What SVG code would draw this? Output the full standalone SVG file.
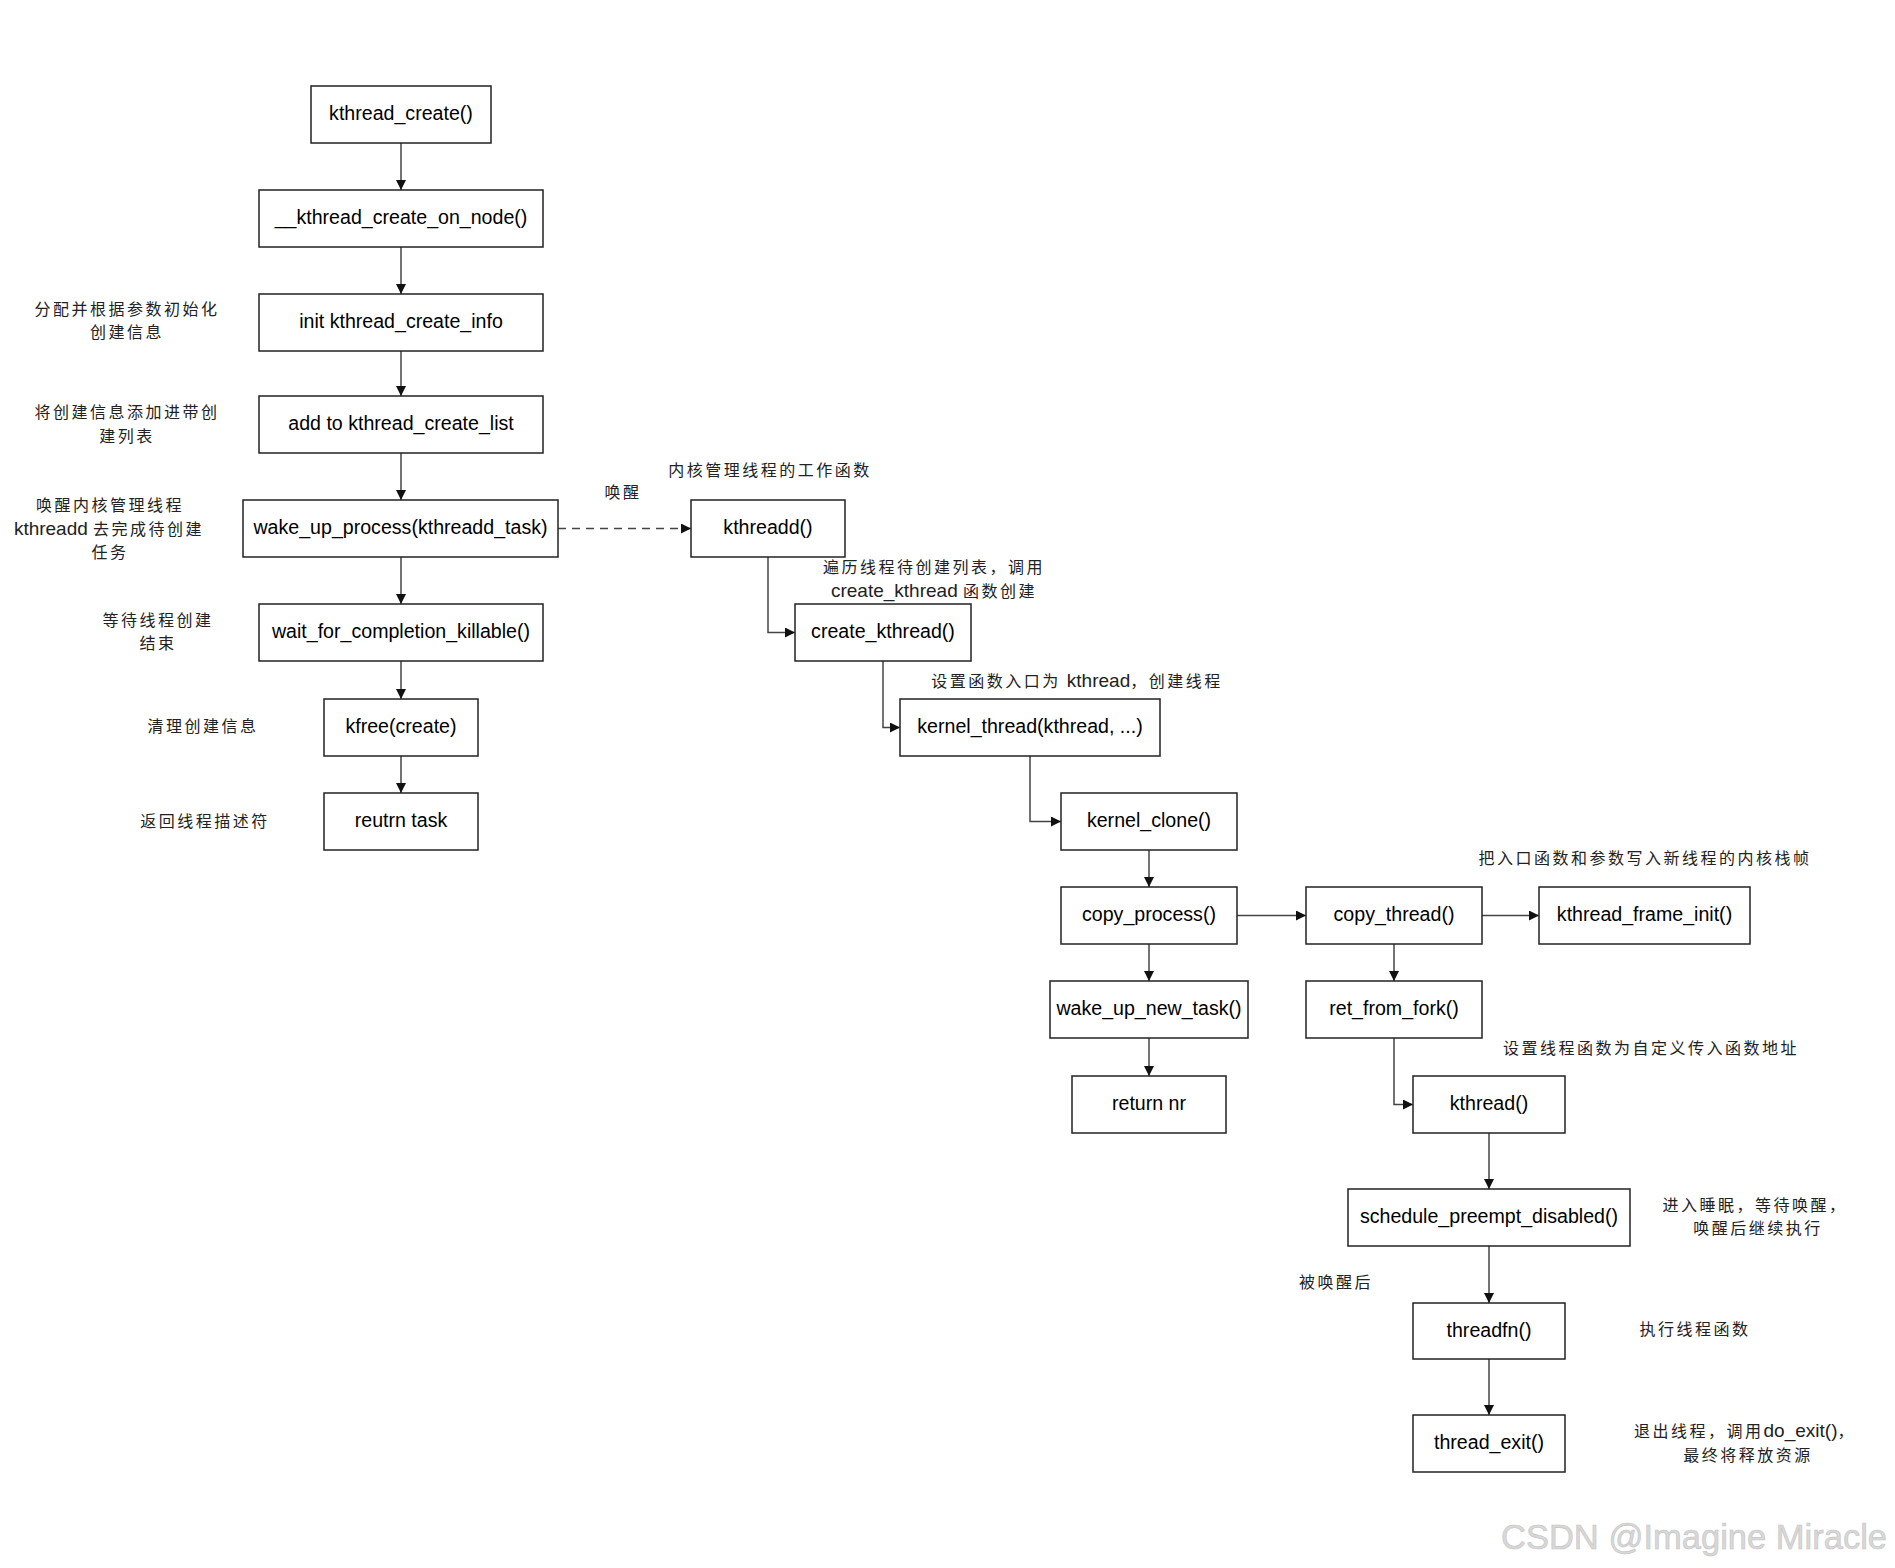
<svg xmlns="http://www.w3.org/2000/svg" width="1895" height="1568" viewBox="0 0 1895 1568">
<defs>
<style>
.box{fill:#fff;stroke:#222;stroke-width:1.5}
.lbl{font-family:"Liberation Sans","DejaVu Sans",sans-serif;font-size:19.6px;fill:#000;text-anchor:middle}
.note{font-family:"Noto Sans CJK SC",sans-serif;font-size:16px;fill:#222;text-anchor:middle;letter-spacing:2.5px}
.lat{font-family:"Liberation Sans","DejaVu Sans",sans-serif;font-size:19px;letter-spacing:0}
.con{fill:none;stroke:#444;stroke-width:1.5}
.dash{stroke-dasharray:8 6}
.wm{font-family:"Liberation Sans",sans-serif;font-size:35px;fill:#d8d8d8;stroke:#c4c4c4;stroke-width:0.6}
</style>
<marker id="arr" markerUnits="userSpaceOnUse" markerWidth="10" markerHeight="10" refX="10" refY="5" orient="auto">
<path d="M0,0 L10,5 L0,10 z" fill="#111"/>
</marker>
</defs>
<rect width="1895" height="1568" fill="#fff"/>

<g id="connectors">
<path class="con" d="M401 143 V190" marker-end="url(#arr)"/>
<path class="con" d="M401 247 V294" marker-end="url(#arr)"/>
<path class="con" d="M401 351 V396" marker-end="url(#arr)"/>
<path class="con" d="M401 453 V500" marker-end="url(#arr)"/>
<path class="con" d="M401 557 V604" marker-end="url(#arr)"/>
<path class="con" d="M401 661 V699" marker-end="url(#arr)"/>
<path class="con" d="M401 756 V793" marker-end="url(#arr)"/>
<path class="con dash" d="M558 528.5 H691" marker-end="url(#arr)"/>
<path class="con" d="M768 557 V632.5 H795" marker-end="url(#arr)"/>
<path class="con" d="M883 661 V727.5 H900" marker-end="url(#arr)"/>
<path class="con" d="M1030 756 V821.5 H1061" marker-end="url(#arr)"/>
<path class="con" d="M1149 850 V887" marker-end="url(#arr)"/>
<path class="con" d="M1237 915.5 H1306" marker-end="url(#arr)"/>
<path class="con" d="M1482 915.5 H1539" marker-end="url(#arr)"/>
<path class="con" d="M1149 944 V981" marker-end="url(#arr)"/>
<path class="con" d="M1149 1038 V1076" marker-end="url(#arr)"/>
<path class="con" d="M1394 944 V981" marker-end="url(#arr)"/>
<path class="con" d="M1394 1038 V1104.5 H1413" marker-end="url(#arr)"/>
<path class="con" d="M1489 1133 V1189" marker-end="url(#arr)"/>
<path class="con" d="M1489 1246 V1303" marker-end="url(#arr)"/>
<path class="con" d="M1489 1359 V1415" marker-end="url(#arr)"/>
</g>

<g id="n1"><rect class="box" x="311" y="86" width="180" height="57"/><text class="lbl" x="401" y="120">kthread_create()</text></g>
<g id="n2"><rect class="box" x="259" y="190" width="284" height="57"/><text class="lbl" x="401" y="224">__kthread_create_on_node()</text></g>
<g id="n3"><rect class="box" x="259" y="294" width="284" height="57"/><text class="lbl" x="401" y="328">init kthread_create_info</text></g>
<g id="n4"><rect class="box" x="259" y="396" width="284" height="57"/><text class="lbl" x="401" y="430">add to kthread_create_list</text></g>
<g id="n5"><rect class="box" x="243" y="500" width="315" height="57"/><text class="lbl" x="400.5" y="534">wake_up_process(kthreadd_task)</text></g>
<g id="n6"><rect class="box" x="259" y="604" width="284" height="57"/><text class="lbl" x="401" y="638">wait_for_completion_killable()</text></g>
<g id="n7"><rect class="box" x="324" y="699" width="154" height="57"/><text class="lbl" x="401" y="733">kfree(create)</text></g>
<g id="n8"><rect class="box" x="324" y="793" width="154" height="57"/><text class="lbl" x="401" y="827">reutrn task</text></g>
<g id="n9"><rect class="box" x="691" y="500" width="154" height="57"/><text class="lbl" x="768" y="534">kthreadd()</text></g>
<g id="n10"><rect class="box" x="795" y="604" width="176" height="57"/><text class="lbl" x="883" y="638">create_kthread()</text></g>
<g id="n11"><rect class="box" x="900" y="699" width="260" height="57"/><text class="lbl" x="1030" y="733">kernel_thread(kthread, ...)</text></g>
<g id="n12"><rect class="box" x="1061" y="793" width="176" height="57"/><text class="lbl" x="1149" y="827">kernel_clone()</text></g>
<g id="n13"><rect class="box" x="1061" y="887" width="176" height="57"/><text class="lbl" x="1149" y="921">copy_process()</text></g>
<g id="n14"><rect class="box" x="1306" y="887" width="176" height="57"/><text class="lbl" x="1394" y="921">copy_thread()</text></g>
<g id="n15"><rect class="box" x="1539" y="887" width="211" height="57"/><text class="lbl" x="1644.5" y="921">kthread_frame_init()</text></g>
<g id="n16"><rect class="box" x="1050" y="981" width="198" height="57"/><text class="lbl" x="1149" y="1015">wake_up_new_task()</text></g>
<g id="n17"><rect class="box" x="1306" y="981" width="176" height="57"/><text class="lbl" x="1394" y="1015">ret_from_fork()</text></g>
<g id="n18"><rect class="box" x="1072" y="1076" width="154" height="57"/><text class="lbl" x="1149" y="1110">return nr</text></g>
<g id="n19"><rect class="box" x="1413" y="1076" width="152" height="57"/><text class="lbl" x="1489" y="1110">kthread()</text></g>
<g id="n20"><rect class="box" x="1348" y="1189" width="282" height="57"/><text class="lbl" x="1489" y="1223">schedule_preempt_disabled()</text></g>
<g id="n21"><rect class="box" x="1413" y="1303" width="152" height="56"/><text class="lbl" x="1489" y="1337">threadfn()</text></g>
<g id="n22"><rect class="box" x="1413" y="1415" width="152" height="57"/><text class="lbl" x="1489" y="1449">thread_exit()</text></g>

<g id="notes">
<text class="note" x="127" y="315">分配并根据参数初始化</text>
<text class="note" x="127" y="338">创建信息</text>
<text class="note" x="127" y="418">将创建信息添加进带创</text>
<text class="note" x="127" y="442">建列表</text>
<text class="note" x="110" y="511">唤醒内核管理线程</text>
<text class="note" x="109" y="535"><tspan class="lat">kthreadd </tspan>去完成待创建</text>
<text class="note" x="110" y="558">任务</text>
<text class="note" x="158" y="626">等待线程创建</text>
<text class="note" x="158" y="649">结束</text>
<text class="note" x="203" y="732">清理创建信息</text>
<text class="note" x="205" y="827">返回线程描述符</text>
<text class="note" x="623" y="498">唤醒</text>
<text class="note" x="770" y="476">内核管理线程的工作函数</text>
<text class="note" x="934" y="573">遍历线程待创建列表，调用</text>
<text class="note" x="934" y="597"><tspan class="lat">create_kthread </tspan>函数创建</text>
<text class="note" x="1077" y="687">设置函数入口为 <tspan class="lat">kthread</tspan>，创建线程</text>
<text class="note" x="1645" y="864">把入口函数和参数写入新线程的内核栈帧</text>
<text class="note" x="1651" y="1054">设置线程函数为自定义传入函数地址</text>
<text class="note" x="1755" y="1211">进入睡眠，等待唤醒，</text>
<text class="note" x="1758" y="1234">唤醒后继续执行</text>
<text class="note" x="1336" y="1288">被唤醒后</text>
<text class="note" x="1695" y="1335">执行线程函数</text>
<text class="note" x="1745" y="1437">退出线程，调用<tspan class="lat">do_exit()</tspan>，</text>
<text class="note" x="1748" y="1461">最终将释放资源</text>
</g>

<text class="wm" x="1501" y="1549" textLength="386" lengthAdjust="spacingAndGlyphs">CSDN @Imagine Miracle</text>
</svg>
